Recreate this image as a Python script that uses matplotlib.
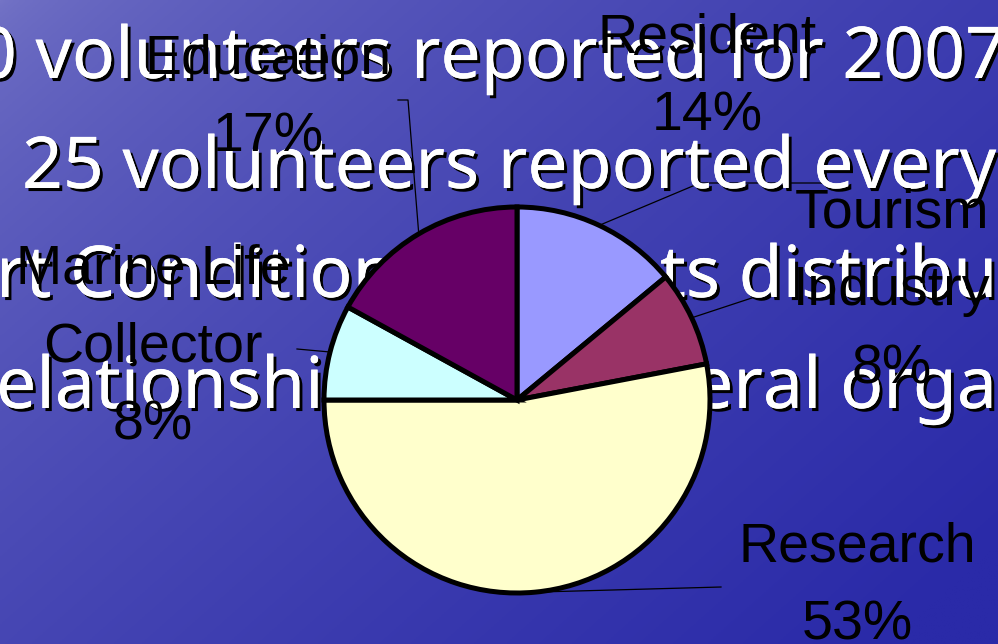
import numpy as np
import matplotlib
matplotlib.use('Agg')
import matplotlib.pyplot as plt
import matplotlib.patheffects as pe

W, H = 998, 644

# Pie data
categories = ['Resident', 'Tourism\nIndustry', 'Research', 'Marine Life\nCollector', 'Education']
values = [14, 8, 53, 8, 17]
colors = ['#9999FF', '#993366', '#FFFFCC', '#CCFFFF', '#660066']

# Bullet text behind the chart (as much as shows on the slide)
slide_lines = [
    ('0 volunteers reported for 2007', -24, 78),
    ('25 volunteers reported every', 22, 188),
    ('rt Conditions', -4, 297),
    ('ts distribution', 660, 297),
    ('elationship', -4, 408),
    ('eral organizations', 693, 408),
]

# label anchor: centre x, first baseline, leader line points after the wedge edge (pixels, y down)
label_pos = {
    'Resident': (707, 52, [(700, 183), (830, 183)]),
    'Tourism\nIndustry': (892, 227, [(770, 292)]),
    'Research': (857, 562, [(721, 587)]),
    'Marine Life\nCollector': (153, 283, [(297, 349)]),
    'Education': (268, 73, [(408, 100), (398, 100)]),
}

cx, cy, R = 517, 400, 193

fig = plt.figure(figsize=(W / 100, H / 100), dpi=100)
ax = fig.add_axes([0, 0, 1, 1])

# background gradient, lighter at the top left
xx, yy = np.meshgrid(np.linspace(0, 1, 400), np.linspace(0, 1, 260))
t = np.clip(0.62 * xx + 0.45 * yy, 0, 1) ** 0.6
c0 = np.array([0x74, 0x74, 0xc6]) / 255
c1 = np.array([0x2a, 0x2a, 0xa8]) / 255
bg = c0[None, None, :] * (1 - t[..., None]) + c1[None, None, :] * t[..., None]
ax.imshow(bg, extent=(0, W, 0, H), origin='upper', zorder=0, aspect='auto')

shadow = [pe.withSimplePatchShadow(offset=(2.2, -2.2), shadow_rgbFace='black', alpha=1), pe.Normal()]
for txt, x, y in slide_lines:
    ax.text(x, H - y, txt, color='white', fontsize=51.5, family='Noto Sans',
            ha='left', va='baseline', zorder=1, path_effects=shadow)

wedges, _ = ax.pie(values, colors=colors, startangle=90, counterclock=False,
                   center=(cx, H - cy), radius=R,
                   wedgeprops=dict(edgecolor='black', linewidth=3.6))
for w in wedges:
    w.set_zorder(2)
ax.set_xlim(0, W)
ax.set_ylim(0, H)
ax.set_aspect('auto')
ax.axis('off')

total = sum(values)
start = 90.0
for cat, v in zip(categories, values):
    span = 360.0 * v / total
    mid = np.deg2rad(start - span / 2)
    start -= span
    x0 = cx + R * np.cos(mid)
    y0 = cy - R * np.sin(mid)
    lx, ly, pts = label_pos[cat]
    xs = [x0] + [p[0] for p in pts]
    ys = [H - y0] + [H - p[1] for p in pts]
    ax.plot(xs, ys, color='black', lw=0.9, zorder=0.8)
    lines = cat.split('\n') + ['%d%%' % v]
    for i, s in enumerate(lines):
        ax.text(lx, H - (ly + i * 78), s, color='black', fontsize=40,
                family='Liberation Sans', ha='center', va='baseline', zorder=3)

fig.savefig('out.png', dpi=100)
